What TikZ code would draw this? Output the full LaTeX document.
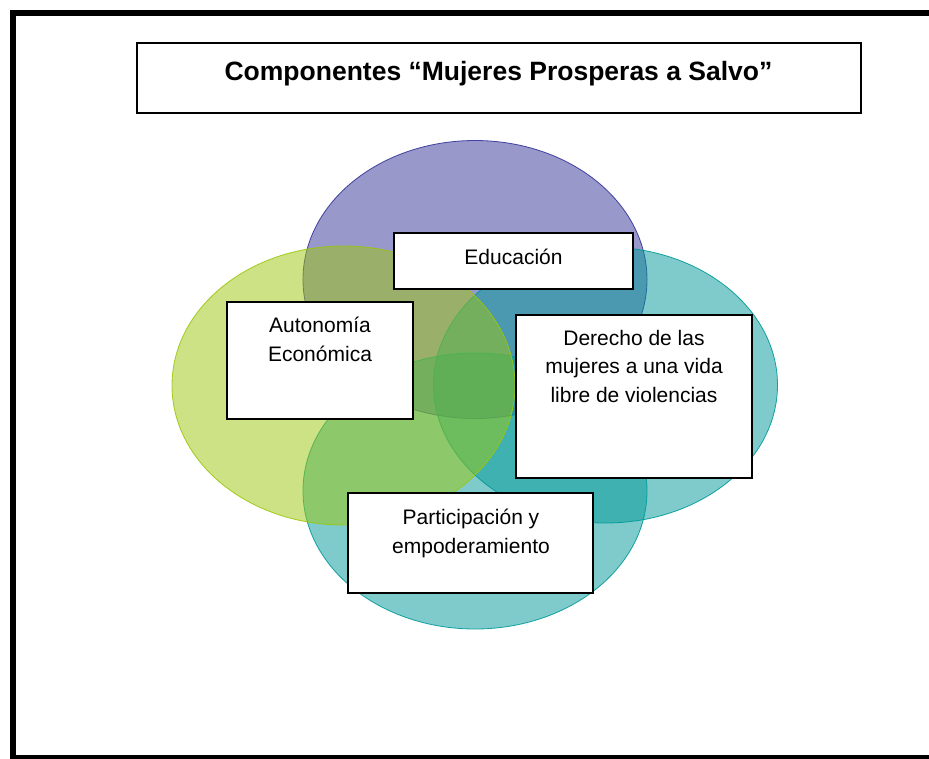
\documentclass[tikz,border=0pt]{standalone}
\usepackage{fontspec}
\setmainfont{Liberation Sans}
\definecolor{vpurple}{HTML}{333399}
\definecolor{vlime}{HTML}{9BC70A}
\definecolor{vteal}{HTML}{009999}
\begin{document}
\begin{tikzpicture}[x=1pt,y=-1pt,
  venn/.style={fill opacity=0.5, draw opacity=0.9, line width=0.8pt},
  labelbox/.style={draw=black, fill=white, line width=1.8pt, inner sep=0pt},
  lbl/.style={font=\fontsize{21}{28.5}\selectfont, align=center, anchor=base, inner sep=0pt},
]
\useasboundingbox (0,0) rectangle (929,758);
\clip (0,0) rectangle (929,758);
\fill[white] (0,0) rectangle (929,758);
\draw[line width=6pt] (13,13) rectangle (945,758);
% title
\node[draw=black, line width=1.5pt, minimum width=724pt, minimum height=70pt, inner sep=0pt] (titlebox) at (499,78) {};
\node[font=\fontsize{26.5}{30}\selectfont\bfseries, anchor=base, inner sep=0pt] (title) at (498.5,80) {Componentes “Mujeres Prosperas a Salvo”};
% venn ellipses
\path[venn, fill=vpurple, draw=vpurple] (475,279.5) ellipse [x radius=172pt, y radius=139pt];
\path[venn, fill=vteal, draw=vteal] (605.5,385) ellipse [x radius=172pt, y radius=138pt];
\path[venn, fill=vteal, draw=vteal] (475,491) ellipse [x radius=172pt, y radius=138pt];
\path[venn, fill=vlime, draw=vlime] (343.5,385.5) ellipse [x radius=171.5pt, y radius=139.5pt];
% label boxes (multi-line labels are placed by the baseline of their last line)
\node[labelbox, minimum width=239pt, minimum height=56pt] (edubox) at (513.5,261) {};
\node[lbl] (edu) at (513.5,264) {Educación};
\node[labelbox, minimum width=186pt, minimum height=117pt] (autobox) at (320,360.5) {};
\node[lbl] (auto) at (320,361) {Autonomía\\Económica};
\node[labelbox, minimum width=236pt, minimum height=163pt] (derbox) at (634,396.5) {};
\node[lbl] (der) at (634,402) {Derecho de las\\mujeres a una vida\\libre de violencias};
\node[labelbox, minimum width=245pt, minimum height=100pt] (partbox) at (470.5,543) {};
\node[lbl] (part) at (471,553) {Participación y\\empoderamiento};
\end{tikzpicture}
\end{document}
